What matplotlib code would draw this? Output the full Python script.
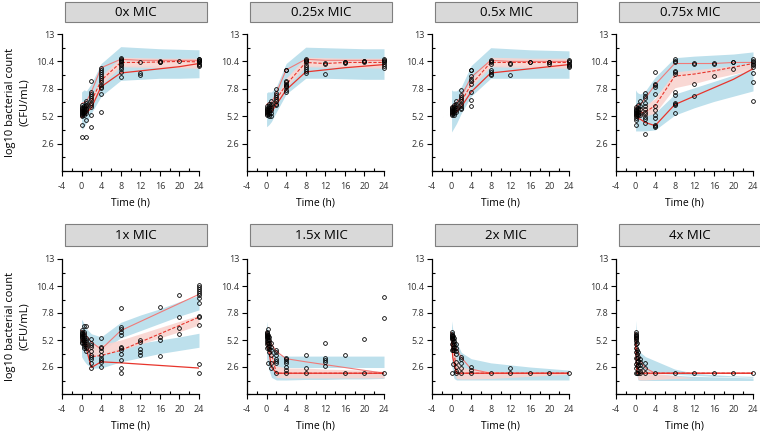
import numpy as np
import matplotlib
matplotlib.use("Agg")
import matplotlib.pyplot as plt
from matplotlib.patches import Rectangle
from matplotlib.ticker import MultipleLocator

plt.rcParams['font.family'] = ['Open Sans', 'DejaVu Sans']
plt.rcParams['axes.unicode_minus'] = False

panel_titles = ['0x MIC', '0.25x MIC', '0.5x MIC', '0.75x MIC',
                '1x MIC', '1.5x MIC', '2x MIC', '4x MIC']

# time grid of the simulated prediction intervals
band_t = [0, 0.25, 0.5, 1, 2, 4, 8, 12, 16, 20, 24]
y_ticks = [2.6, 5.2, 7.8, 10.4, 13]
y_labels = ['2.6', '5.2', '7.8', '10.4', '13']

# ---- 0x MIC ----
obs_0x = {
    0: [6.3, 6.1, 6.0, 5.9, 5.8, 5.7, 5.6, 5.5, 5.4, 5.3, 5.2, 4.4, 3.2],
    0.5: [6.2, 6.0, 5.8, 5.6, 5.5, 5.3],
    1: [6.6, 6.5, 6.3, 6.2, 6.0, 5.9, 5.7, 5.5, 4.8, 3.2],
    2: [8.5, 7.5, 7.3, 7.1, 6.9, 6.7, 6.5, 6.3, 6.1, 5.3, 4.2],
    4: [9.8, 9.6, 9.4, 9.2, 9.0, 8.8, 8.6, 8.4, 8.2, 8.0, 7.9, 7.3, 5.6],
    8: [10.7, 10.6, 10.5, 10.4, 10.3, 10.2, 10.1, 9.9, 9.7, 9.4, 8.95],
    12: [10.3, 9.3, 9.1],
    16: [10.4, 10.35, 10.3],
    20: [10.4],
    24: [10.65, 10.6, 10.5, 10.45, 10.4, 10.3, 10.2, 10.1, 10.0],
}
line_t_0x = [0, 0.5, 1, 2, 4, 8, 12, 16, 20, 24]
p95_0x = [6.4, 6.5, 6.6, 7.5, 9.8, 10.6, 10.5, 10.5, 10.5, 10.5]
p50_0x = [5.7, 5.8, 5.9, 6.6, 8.6, 10.3, 10.3, 10.35, 10.4, 10.35]
p05_0x = [5.1, 5.3, 5.5, 6.0, 8.0, 9.3, 9.5, 9.7, 9.9, 10.2]
ci05_lo_0x = [4.0, 4.0, 4.2, 4.6, 5.5, 7.1, 8.6, 8.7, 8.8, 8.8, 8.85]
ci05_hi_0x = [6.0, 6.0, 6.1, 6.3, 7.0, 8.8, 10.0, 10.0, 10.0, 10.0, 10.0]
ci95_lo_0x = [5.6, 5.6, 5.8, 6.0, 6.8, 8.9, 10.4, 10.4, 10.4, 10.4, 10.4]
ci95_hi_0x = [7.5, 7.6, 7.7, 7.6, 8.3, 10.2, 11.8, 11.7, 11.6, 11.55, 11.5]
ci50_lo_0x = [5.4, 5.4, 5.5, 5.7, 6.3, 8.2, 9.9, 9.85, 9.8, 9.8, 9.75]
ci50_hi_0x = [6.0, 6.0, 6.1, 6.3, 7.0, 9.0, 10.8, 10.75, 10.7, 10.7, 10.7]

# ---- 0.25x MIC ----
obs_025x = {
    0: [6.2, 6.0, 5.9, 5.8, 5.7, 5.6, 5.5, 5.4, 5.3],
    0.5: [6.4, 6.2, 6.0, 5.8, 5.6, 5.4, 5.2],
    1: [6.6, 6.4, 6.2, 6.0, 5.8, 5.5, 5.2],
    2: [7.75, 7.4, 7.2, 7.0, 6.8, 6.6, 6.4, 6.3],
    4: [9.6, 9.55, 8.5, 8.4, 8.3, 8.2, 8.1, 8.0, 7.7, 7.5],
    8: [10.6, 10.5, 10.4, 10.3, 10.1, 9.9, 9.7, 9.5, 9.3],
    12: [10.25, 10.2, 9.2],
    16: [10.35, 10.3, 10.25],
    20: [10.45, 10.4, 10.35],
    24: [10.6, 10.5, 10.4, 10.3, 10.2, 10.0, 9.75],
}
line_t_025x = [0, 0.5, 1, 2, 4, 8, 12, 16, 20, 24]
p95_025x = [6.3, 6.5, 6.5, 7.4, 9.6, 10.6, 10.5, 10.5, 10.5, 10.5]
p50_025x = [5.8, 5.9, 6.0, 6.8, 8.2, 10.3, 10.2, 10.3, 10.3, 10.3]
p05_025x = [5.4, 5.5, 5.6, 6.3, 7.7, 9.4, 9.6, 9.8, 9.95, 10.1]
ci05_lo_025x = [4.2, 4.3, 4.4, 4.7, 5.6, 7.3, 8.8, 8.8, 8.75, 8.7, 8.7]
ci05_hi_025x = [6.0, 6.0, 6.1, 6.3, 7.0, 8.5, 10.0, 10.0, 10.0, 10.0, 10.0]
ci95_lo_025x = [5.8, 5.8, 5.9, 6.1, 6.9, 8.8, 10.4, 10.4, 10.4, 10.4, 10.4]
ci95_hi_025x = [7.4, 7.5, 7.5, 7.5, 8.0, 10.2, 11.75, 11.7, 11.65, 11.6, 11.6]
ci50_lo_025x = [5.5, 5.5, 5.6, 5.8, 6.5, 8.0, 9.9, 9.85, 9.8, 9.8, 9.75]
ci50_hi_025x = [6.1, 6.1, 6.2, 6.4, 7.1, 8.8, 10.8, 10.75, 10.7, 10.7, 10.7]

# ---- 0.5x MIC ----
obs_05x = {
    0: [6.1, 6.0, 5.9, 5.8, 5.7, 5.6, 5.5, 5.4, 5.3],
    0.5: [6.3, 6.1, 5.9, 5.7, 5.5, 5.3],
    1: [6.6, 6.4, 6.2, 6.0, 5.8, 5.6],
    2: [7.7, 7.2, 7.0, 6.8, 6.6, 6.4, 6.2, 6.0, 5.9],
    4: [9.6, 9.55, 9.0, 8.7, 8.5, 8.3, 7.5, 6.7, 6.2],
    8: [10.55, 10.45, 10.35, 10.2, 9.6, 9.4, 9.2, 9.1],
    12: [10.25, 10.2, 9.1],
    16: [10.35, 10.3],
    20: [10.35, 10.3, 10.2],
    24: [10.5, 10.4, 10.3, 10.2, 10.1, 10.0, 9.9],
}
line_t_05x = [0, 0.5, 1, 2, 4, 8, 12, 16, 20, 24]
p95_05x = [6.1, 6.3, 6.5, 7.1, 8.9, 10.5, 10.4, 10.4, 10.4, 10.4]
p50_05x = [5.7, 5.8, 5.9, 6.6, 8.2, 10.3, 10.3, 10.3, 10.3, 10.3]
p05_05x = [5.4, 5.5, 5.6, 6.1, 7.5, 9.3, 9.5, 9.7, 9.9, 10.1]
ci05_lo_05x = [3.7, 3.9, 4.1, 4.5, 5.5, 7.1, 8.8, 8.8, 8.8, 8.8, 8.8]
ci05_hi_05x = [5.9, 6.0, 6.0, 6.2, 6.9, 8.4, 10.0, 10.0, 10.0, 10.0, 10.0]
ci95_lo_05x = [5.7, 5.8, 5.8, 6.0, 6.8, 8.6, 10.4, 10.4, 10.4, 10.4, 10.4]
ci95_hi_05x = [7.7, 7.6, 7.6, 7.6, 8.0, 10.0, 11.7, 11.6, 11.5, 11.45, 11.4]
ci50_lo_05x = [5.4, 5.5, 5.5, 5.7, 6.4, 8.0, 9.9, 9.85, 9.8, 9.8, 9.75]
ci50_hi_05x = [6.0, 6.1, 6.1, 6.3, 7.0, 8.7, 10.8, 10.75, 10.7, 10.7, 10.7]

# ---- 0.75x MIC ----
obs_075x = {
    0: [6.1, 5.9, 5.8, 5.7, 5.6, 5.5, 5.4, 5.3, 5.2, 5.0, 4.84, 4.4],
    0.5: [6.3, 6.0, 5.8, 5.6, 5.4, 5.3],
    1: [6.6, 6.2, 5.9, 5.5, 5.3],
    2: [7.4, 7.1, 6.9, 6.5, 6.2, 5.9, 5.6, 5.4, 5.1, 4.9, 4.6, 3.5],
    4: [9.4, 8.3, 8.2, 8.0, 7.3, 6.2, 5.8, 5.3, 5.0, 4.35, 4.25, 4.2],
    8: [10.6, 10.4, 10.3, 9.45, 9.35, 9.25, 7.5, 7.2, 6.5, 6.4, 6.3, 5.5],
    12: [10.25, 10.2, 8.3, 7.15],
    16: [10.25, 10.2, 9.0],
    20: [10.35, 10.3, 9.65],
    24: [10.6, 10.45, 10.3, 10.2, 10.1, 9.9, 9.3, 8.4, 6.65],
}
line_t_075x = [0, 0.5, 1, 2, 4, 8, 12, 16, 20, 24]
p95_075x = [6.0, 6.3, 6.3, 6.9, 8.2, 10.2, 10.2, 10.2, 10.3, 10.3]
p50_075x = [5.6, 5.5, 5.5, 5.6, 6.2, 9.0, 9.2, 9.5, 9.85, 10.2]
p05_075x = [5.3, 5.0, 4.9, 4.6, 4.3, 6.3, 7.1, 7.9, 8.7, 9.7]
ci05_lo_075x = [3.8, 3.8, 3.8, 3.8, 3.8, 3.9, 5.3, 6.0, 6.6, 7.1, 7.6]
ci05_hi_075x = [5.5, 5.5, 5.4, 5.4, 5.3, 5.5, 7.3, 7.9, 8.5, 9.1, 9.7]
ci95_lo_075x = [5.3, 5.4, 5.5, 5.6, 6.0, 7.0, 9.1, 9.3, 9.4, 9.6, 9.75]
ci95_hi_075x = [7.7, 7.5, 7.4, 7.3, 7.6, 8.9, 10.75, 10.9, 11.0, 11.1, 11.3]
ci50_lo_075x = [5.2, 5.2, 5.2, 5.2, 5.2, 5.5, 7.9, 8.3, 8.8, 9.2, 9.6]
ci50_hi_075x = [6.0, 6.0, 6.0, 6.0, 6.2, 6.9, 9.4, 9.6, 9.8, 10.0, 10.3]

# ---- 1x MIC ----
obs_1x = {
    0: [6.2, 6.0, 5.9, 5.8, 5.7, 5.6, 5.5, 5.4, 5.2, 5.0, 4.9],
    0.5: [6.55, 6.0, 5.8, 5.6, 5.4, 5.2, 5.0, 4.8, 4.6, 4.4],
    1: [6.55, 5.4, 5.2, 5.0, 4.8, 4.6, 4.4, 4.1],
    2: [5.3, 4.9, 4.7, 4.55, 4.1, 3.8, 3.6, 3.4, 2.95, 2.55],
    4: [5.4, 4.55, 4.4, 4.1, 3.75, 3.5, 3.3, 3.1, 2.6],
    8: [8.25, 6.5, 6.3, 6.0, 5.7, 4.55, 4.4, 4.2, 3.9, 3.3, 2.5, 2.0],
    12: [5.2, 5.0, 4.3, 4.0, 3.8],
    16: [8.4, 5.5, 5.2, 3.7],
    20: [9.5, 7.45, 6.4, 5.8],
    24: [10.5, 10.3, 10.1, 9.9, 9.7, 9.5, 9.2, 8.8, 7.5, 7.4, 6.6, 2.85, 2.0],
}
line_t_1x = [0, 0.5, 1, 2, 4, 8, 24]
p95_1x = [6.1, 6.0, 5.6, 5.0, 4.3, 6.1, 9.6]
p50_1x = [5.7, 5.3, 4.8, 3.6, 3.7, 4.2, 7.4]
p05_1x = [5.2, 4.8, 4.3, 2.55, 3.1, 3.0, 2.5]
ci05_lo_1x = [3.6, 3.4, 3.2, 2.9, 2.5, 2.5, 3.1, 3.5, 3.9, 4.2, 4.5]
ci05_hi_1x = [6.0, 5.8, 5.6, 5.0, 4.2, 3.9, 4.5, 4.9, 5.2, 5.5, 5.85]
ci95_lo_1x = [5.0, 5.0, 4.9, 4.7, 4.3, 4.1, 5.4, 6.1, 6.8, 7.5, 8.1]
ci95_hi_1x = [7.2, 7.0, 6.8, 6.3, 5.8, 5.5, 6.9, 7.6, 8.2, 8.9, 9.5]
ci50_lo_1x = [5.3, 5.1, 4.9, 4.4, 3.6, 3.75, 4.2, 4.8, 5.4, 6.0, 6.65]
ci50_hi_1x = [6.0, 5.8, 5.6, 5.2, 4.7, 4.75, 5.2, 5.8, 6.4, 7.0, 7.6]

# ---- 1.5x MIC ----
obs_15x = {
    0: [6.0, 5.9, 5.8, 5.7, 5.6, 5.5, 5.4, 5.2, 5.0, 4.8, 4.4],
    0.25: [6.25, 5.7, 5.5, 5.2, 4.9, 4.55, 3.0],
    0.5: [5.5, 5.2, 4.9, 4.6, 4.3, 4.0],
    1: [4.9, 4.5, 4.2, 3.75, 3.0, 2.5],
    2: [4.25, 4.0, 3.75, 3.4, 3.2, 2.95, 2.0],
    4: [3.5, 3.4, 3.2, 2.95, 2.6, 2.3, 2.0],
    8: [3.8, 2.5, 2.0],
    12: [4.9, 3.5, 3.3, 3.1, 2.7],
    16: [3.8, 2.0],
    20: [5.3, 2.0],
    24: [9.35, 7.35, 2.0],
}
line_t_15x = [0, 0.5, 1, 2, 4, 8, 24]
p95_15x = [6.0, 5.5, 4.8, 4.1, 3.4, 3.1, 2.0]
p50_15x = [5.5, 4.9, 3.9, 2.0, 2.0, 2.0, 2.0]
p05_15x = [5.0, 4.0, 2.6, 2.0, 2.0, 2.0, 2.0]
ci05_lo_15x = [3.5, 2.8, 2.3, 1.6, 1.35, 1.35, 1.4, 1.4, 1.45, 1.45, 1.5]
ci05_hi_15x = [5.8, 5.0, 4.4, 3.4, 2.2, 2.1, 2.1, 2.1, 2.1, 2.1, 2.1]
ci95_lo_15x = [4.9, 4.5, 4.0, 3.2, 2.6, 2.55, 2.55, 2.55, 2.55, 2.55, 2.55]
ci95_hi_15x = [7.0, 6.2, 5.5, 4.6, 3.8, 3.65, 3.65, 3.65, 3.65, 3.65, 3.65]
ci50_lo_15x = [5.0, 4.4, 3.9, 2.8, 1.6, 1.55, 1.55, 1.55, 1.55, 1.55, 1.55]
ci50_hi_15x = [6.0, 5.3, 4.8, 3.9, 2.7, 2.5, 2.5, 2.4, 2.35, 2.3, 2.2]

# ---- 2x MIC ----
obs_2x = {
    0: [5.95, 5.8, 5.7, 5.6, 5.5, 5.4, 5.3, 4.8, 4.25, 2.0],
    0.25: [5.6, 5.3, 5.0, 4.7, 4.4, 4.2, 2.9],
    0.5: [5.4, 5.1, 4.8, 4.5, 4.2],
    1: [4.8, 4.4, 4.1, 3.85, 3.05, 2.6, 2.25, 2.0],
    2: [3.6, 3.4, 3.0, 2.5, 2.0],
    4: [2.6, 2.3, 2.0],
    8: [2.0],
    12: [2.5, 2.0],
    16: [2.0],
    20: [2.0],
    24: [2.0],
}
line_t_2x = [0, 0.25, 0.5, 1, 2, 4, 8, 24]
p95_2x = [5.9, 5.5, 5.0, 4.4, 3.5, 2.4, 2.0, 2.0]
p50_2x = [5.4, 4.6, 4.2, 2.0, 2.0, 2.0, 2.0, 2.0]
p05_2x = [5.0, 3.5, 3.0, 2.0, 2.0, 2.0, 2.0, 2.0]
ci05_lo_2x = [2.9, 2.0, 1.5, 1.35, 1.35, 1.35, 1.35, 1.35, 1.35, 1.35, 1.35]
ci05_hi_2x = [5.0, 3.8, 3.0, 2.2, 2.0, 2.0, 2.0, 2.0, 2.0, 2.0, 2.0]
ci95_lo_2x = [4.6, 3.8, 3.2, 2.5, 2.2, 2.0, 2.0, 2.0, 2.0, 2.0, 2.0]
ci95_hi_2x = [7.05, 6.2, 5.6, 5.0, 4.0, 3.4, 3.0, 2.8, 2.6, 2.45, 2.3]
ci50_lo_2x = [4.0, 3.0, 2.3, 1.5, 1.45, 1.45, 1.5, 1.6, 1.7, 1.8, 1.9]
ci50_hi_2x = [6.0, 5.2, 4.6, 3.2, 2.6, 2.4, 2.2, 2.1, 2.05, 2.0, 2.0]

# ---- 4x MIC ----
obs_4x = {
    0: [5.95, 5.8, 5.7, 5.6, 5.5, 5.4, 5.3, 5.15, 4.8, 4.4, 4.0, 3.5, 2.9, 2.5, 2.0],
    0.25: [4.9, 4.2, 3.9, 3.5, 3.1, 2.7, 2.0],
    0.5: [4.0, 3.6, 3.2, 2.8, 2.0],
    1: [3.4, 3.1, 2.8, 2.55, 2.25, 2.0],
    2: [2.95, 2.55, 2.0],
    4: [2.0],
    8: [2.0],
    12: [2.0],
    16: [2.0],
    20: [2.0],
    24: [2.0],
}
line_t_4x = [0, 0.25, 0.5, 1, 2, 4, 24]
p95_4x = [5.9, 4.5, 3.8, 3.1, 2.5, 2.0, 2.0]
p50_4x = [5.5, 3.0, 2.0, 2.0, 2.0, 2.0, 2.0]
p05_4x = [5.0, 2.0, 2.0, 2.0, 2.0, 2.0, 2.0]
ci05_lo_4x = [3.5, 1.8, 1.35, 1.3, 1.3, 1.3, 1.3, 1.3, 1.3, 1.3, 1.3]
ci05_hi_4x = [5.0, 3.0, 2.2, 2.0, 2.0, 1.9, 1.8, 1.7, 1.65, 1.6, 1.55]
ci95_lo_4x = [4.5, 3.5, 3.0, 2.4, 2.2, 2.0, 1.9, 1.8, 1.7, 1.65, 1.6]
ci95_hi_4x = [7.1, 5.5, 4.5, 4.0, 3.6, 3.2, 2.4, 2.0, 1.85, 1.75, 1.7]
ci50_lo_4x = [4.2, 2.2, 1.4, 1.35, 1.35, 1.4, 1.5, 1.55, 1.55, 1.55, 1.55]
ci50_hi_4x = [6.0, 4.0, 3.0, 2.5, 2.3, 2.0, 1.75, 1.55, 1.55, 1.55, 1.55]

panels = [
    (obs_0x, line_t_0x, p05_0x, p50_0x, p95_0x, ci05_lo_0x, ci05_hi_0x, ci50_lo_0x, ci50_hi_0x, ci95_lo_0x, ci95_hi_0x),
    (obs_025x, line_t_025x, p05_025x, p50_025x, p95_025x, ci05_lo_025x, ci05_hi_025x, ci50_lo_025x, ci50_hi_025x, ci95_lo_025x, ci95_hi_025x),
    (obs_05x, line_t_05x, p05_05x, p50_05x, p95_05x, ci05_lo_05x, ci05_hi_05x, ci50_lo_05x, ci50_hi_05x, ci95_lo_05x, ci95_hi_05x),
    (obs_075x, line_t_075x, p05_075x, p50_075x, p95_075x, ci05_lo_075x, ci05_hi_075x, ci50_lo_075x, ci50_hi_075x, ci95_lo_075x, ci95_hi_075x),
    (obs_1x, line_t_1x, p05_1x, p50_1x, p95_1x, ci05_lo_1x, ci05_hi_1x, ci50_lo_1x, ci50_hi_1x, ci95_lo_1x, ci95_hi_1x),
    (obs_15x, line_t_15x, p05_15x, p50_15x, p95_15x, ci05_lo_15x, ci05_hi_15x, ci50_lo_15x, ci50_hi_15x, ci95_lo_15x, ci95_hi_15x),
    (obs_2x, line_t_2x, p05_2x, p50_2x, p95_2x, ci05_lo_2x, ci05_hi_2x, ci50_lo_2x, ci50_hi_2x, ci95_lo_2x, ci95_hi_2x),
    (obs_4x, line_t_4x, p05_4x, p50_4x, p95_4x, ci05_lo_4x, ci05_hi_4x, ci50_lo_4x, ci50_hi_4x, ci95_lo_4x, ci95_hi_4x),
]

W, H = 760, 434
fig = plt.figure(figsize=(W / 100, H / 100), dpi=100)

# axes placement in pixels
lefts = [62, 247, 432, 616]
rows = [(34, 171), (259, 394)]   # (top, bottom)
ax_w = 137

blue = '#bde0ec'
pink = '#f9d4d0'
red = '#e8352c'

for i, (title, p) in enumerate(zip(panel_titles, panels)):
    obs, lt, p05, p50, p95, c5lo, c5hi, c50lo, c50hi, c95lo, c95hi = p
    r, c = divmod(i, 4)
    top, bot = rows[r]
    ax = fig.add_axes([lefts[c] / W, 1 - bot / H, ax_w / W, (bot - top) / H])

    # prediction intervals
    ax.fill_between(band_t, c5lo, c5hi, color=blue, lw=0, zorder=1)
    ax.fill_between(band_t, c95lo, c95hi, color=blue, lw=0, zorder=1)
    ax.fill_between(band_t, c50lo, c50hi, color=pink, alpha=0.9, lw=0, zorder=2)

    # observed percentiles
    ax.plot(lt, p95, color='#f07a78', lw=0.8, zorder=3)
    ax.plot(lt, p50, color=red, lw=0.8, ls=(0, (3, 1.5)), zorder=3)
    ax.plot(lt, p05, color=red, lw=0.9, zorder=3)

    # observations
    for t, vals in obs.items():
        ax.plot([t] * len(vals), vals, 'o', ms=2.7, mfc='none', mec='black',
                mew=0.6, zorder=4, clip_on=False)

    ax.set_xlim(-4, 24)
    ax.set_ylim(0, 13)
    ax.xaxis.set_major_locator(MultipleLocator(4))
    ax.xaxis.set_minor_locator(MultipleLocator(2))
    ax.set_yticks(y_ticks)
    ax.set_yticklabels(y_labels)
    ax.yaxis.set_minor_locator(MultipleLocator(1.3))
    ax.tick_params(which='major', direction='out', length=3.5, width=0.8,
                   labelsize=6.5, pad=2, colors='black')
    ax.tick_params(axis='x', which='major', pad=4.5)
    ax.tick_params(which='minor', direction='in', length=2.5, width=0.8)
    ax.tick_params(labelcolor='#333333')
    for s in ['top', 'right']:
        ax.spines[s].set_visible(False)
    for s in ['left', 'bottom']:
        ax.spines[s].set_linewidth(0.9)
    ax.set_xlabel('Time (h)', fontsize=7.5, labelpad=4.5)

    if c == 0:
        ax.set_ylabel('log10 bacterial count\n(CFU/mL)', fontsize=8,
                      linespacing=1.35)
        ax.yaxis.set_label_coords(-0.235, 0.5)

    # strip header
    box_top = 2 if r == 0 else 224
    box_bot = 22 if r == 0 else 246
    x0 = lefts[c] + 3
    fig.add_artist(Rectangle((x0 / W, 1 - box_bot / H), 142 / W,
                             (box_bot - box_top) / H, transform=fig.transFigure,
                             facecolor='#d9d9d9', edgecolor='#7f7f7f', lw=0.8))
    fig.text((x0 + 71) / W, 1 - (box_top + box_bot) / 2 / H, title,
             ha='center', va='center', fontsize=9.5)

fig.savefig('out.png', dpi=100)
